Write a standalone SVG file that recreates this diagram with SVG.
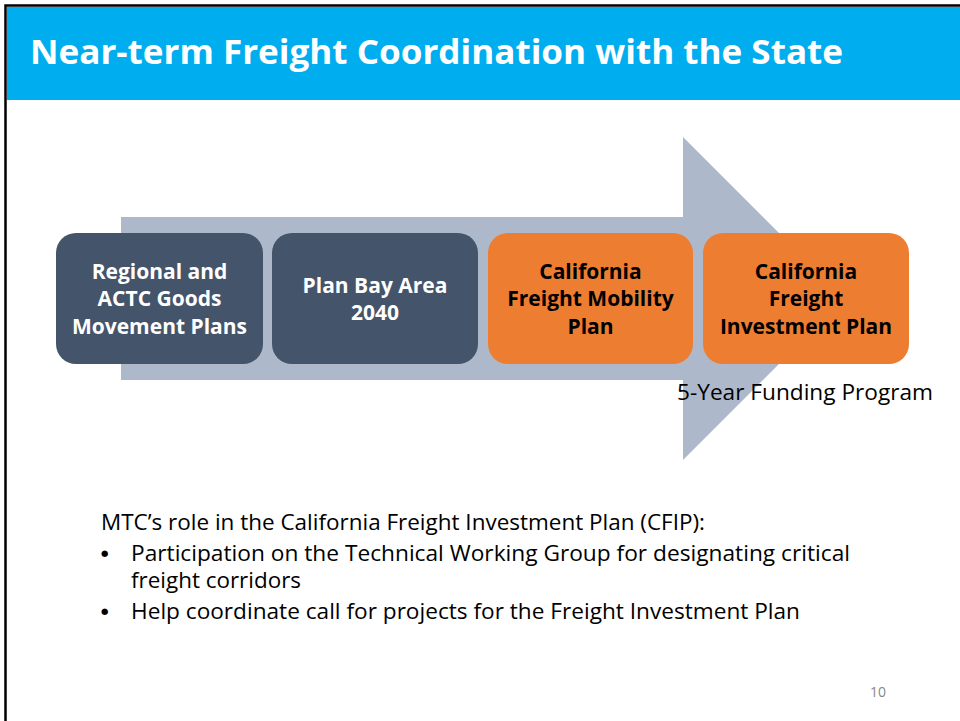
<svg xmlns="http://www.w3.org/2000/svg" width="960" height="721" viewBox="0 0 960 721">
<style>
.t{font-family:"Open Sans","Noto Sans","DejaVu Sans",sans-serif}
.bx{font-family:"Open Sans","Noto Sans","DejaVu Sans",sans-serif;font-weight:bold;font-size:21px;text-anchor:middle}
.dk{fill:#44546A}
.or{fill:#ED7D31}
.body{font-size:21px;fill:#000}
.bul{font-family:"DejaVu Sans",sans-serif;font-size:8.5px;fill:#000}
</style>
<rect x="0" y="0" width="960" height="721" fill="#ffffff"/>
<rect x="5.5" y="5.5" width="960" height="720" fill="none" stroke="#000" stroke-width="2.5"/>
<rect x="7" y="7" width="953" height="93" fill="#00AEEF"/>
<text class="t" x="30" y="64" font-size="34" font-weight="bold" fill="#ffffff" textLength="813" lengthAdjust="spacingAndGlyphs">Near-term Freight Coordination with the State</text>
<g id="connectors">
<path d="M121,217 H683 V137 L844.5,298.5 L683,460 V380 H121 Z" fill="#ADB9CA"/>
</g>
<g id="n1">
<rect class="dk" x="56" y="233" width="207" height="131" rx="20"/>
<text class="bx" fill="#fff"><tspan x="159.5" y="279">Regional and</tspan><tspan x="159.5" y="306">ACTC Goods</tspan><tspan x="159.5" y="334">Movement Plans</tspan></text>
</g>
<g id="n2">
<rect class="dk" x="272" y="233" width="206" height="131" rx="20"/>
<text class="bx" fill="#fff"><tspan x="375" y="293">Plan Bay Area</tspan><tspan x="375" y="320">2040</tspan></text>
</g>
<g id="n3">
<rect class="or" x="488" y="233" width="205" height="131" rx="20"/>
<text class="bx" fill="#000"><tspan x="590.5" y="279">California</tspan><tspan x="590.5" y="306">Freight Mobility</tspan><tspan x="590.5" y="334">Plan</tspan></text>
</g>
<g id="n4">
<rect class="or" x="703" y="233" width="206" height="131" rx="20"/>
<text class="bx" fill="#000"><tspan x="806" y="279">California</tspan><tspan x="806" y="306">Freight</tspan><tspan x="806" y="334">Investment Plan</tspan></text>
</g>
<text class="t" x="677" y="400" font-size="21" fill="#000" textLength="256" lengthAdjust="spacingAndGlyphs">5-Year Funding Program</text>
<g class="t body">
<text x="101" y="530" textLength="604" lengthAdjust="spacingAndGlyphs">MTC’s role in the California Freight Investment Plan (CFIP):</text>
<text class="bul" x="101" y="555.5">●</text>
<text x="131" y="561" textLength="719" lengthAdjust="spacingAndGlyphs">Participation on the Technical Working Group for designating critical</text>
<text x="131" y="588" textLength="170" lengthAdjust="spacingAndGlyphs">freight corridors</text>
<text class="bul" x="101" y="613.5">●</text>
<text x="131" y="619" textLength="669" lengthAdjust="spacingAndGlyphs">Help coordinate call for projects for the Freight Investment Plan</text>
</g>
<text class="t" x="870" y="697" font-size="14" fill="#888888">10</text>
</svg>
